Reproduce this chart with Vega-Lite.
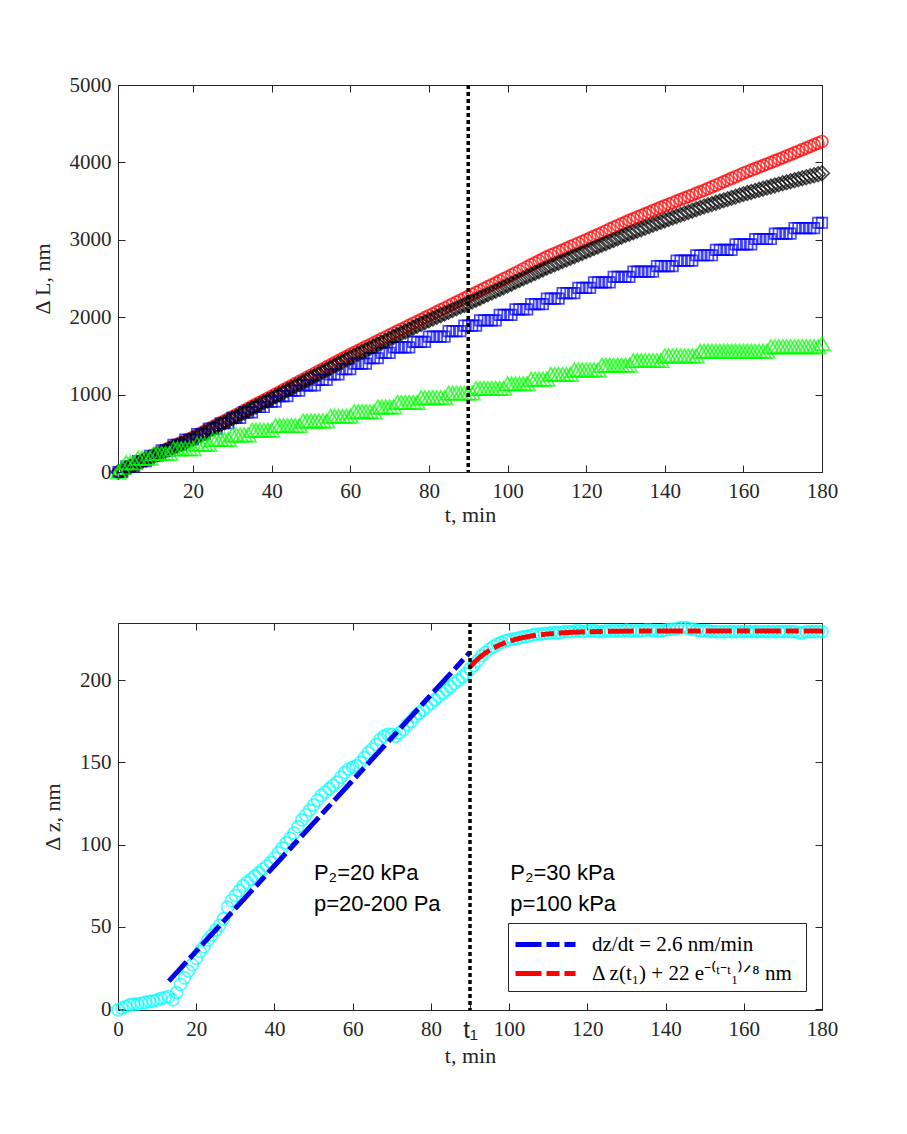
{
  "$schema": "https://vega.github.io/schema/vega-lite/v6.json",
  "padding": {"left": 31, "top": 74, "right": 5, "bottom": 5},
  "spacing": 93,
  "resolve": {"legend": {"color": "independent", "strokeDash": "independent"}},
  "config": {
    "view": {"stroke": null},
    "axis": {
      "domainColor": "#262626", "tickColor": "#262626", "labelColor": "#262626", "titleColor": "#262626",
      "labelFont": "Liberation Serif", "titleFont": "Liberation Serif",
      "labelFontSize": 21, "titleFontSize": 22, "titleFontWeight": "normal",
      "tickSize": -7, "grid": false, "labelFlush": false, "labelOverlap": false,
      "domainWidth": 1, "tickWidth": 1, "format": "d"
    }
  },
  "datasets": {
    "elong": [
      {"t":1,"r":0,"b":0,"k":0,"g":0},{"t":2,"r":24,"b":0,"k":23,"g":60},{"t":3,"r":49,"b":70,"k":46,"g":120},{"t":4,"r":73,"b":70,"k":68,"g":120},{"t":5,"r":98,"b":70,"k":91,"g":120},
      {"t":6,"r":122,"b":140,"k":114,"g":180},{"t":7,"r":147,"b":140,"k":137,"g":180},{"t":8,"r":171,"b":140,"k":160,"g":180},{"t":9,"r":196,"b":210,"k":182,"g":180},{"t":10,"r":220,"b":210,"k":205,"g":240},
      {"t":11,"r":243,"b":210,"k":228,"g":240},{"t":12,"r":266,"b":280,"k":250,"g":240},{"t":13,"r":289,"b":280,"k":273,"g":240},{"t":14,"r":312,"b":280,"k":295,"g":240},{"t":15,"r":335,"b":350,"k":318,"g":300},
      {"t":16,"r":358,"b":350,"k":340,"g":300},{"t":17,"r":381,"b":350,"k":363,"g":300},{"t":18,"r":404,"b":420,"k":385,"g":300},{"t":19,"r":427,"b":420,"k":408,"g":300},{"t":20,"r":450,"b":420,"k":430,"g":300},
      {"t":21,"r":476,"b":490,"k":456,"g":360},{"t":22,"r":503,"b":490,"k":482,"g":360},{"t":23,"r":530,"b":490,"k":508,"g":360},{"t":24,"r":556,"b":560,"k":534,"g":360},{"t":25,"r":583,"b":560,"k":560,"g":420},
      {"t":26,"r":609,"b":560,"k":586,"g":420},{"t":27,"r":636,"b":630,"k":612,"g":420},{"t":28,"r":662,"b":630,"k":638,"g":420},{"t":29,"r":689,"b":630,"k":664,"g":420},{"t":30,"r":715,"b":700,"k":690,"g":480},
      {"t":31,"r":741,"b":700,"k":716,"g":480},{"t":32,"r":768,"b":700,"k":742,"g":480},{"t":33,"r":795,"b":770,"k":768,"g":480},{"t":34,"r":821,"b":770,"k":794,"g":480},{"t":35,"r":848,"b":770,"k":820,"g":540},
      {"t":36,"r":874,"b":840,"k":846,"g":540},{"t":37,"r":901,"b":840,"k":872,"g":540},{"t":38,"r":927,"b":840,"k":898,"g":540},{"t":39,"r":954,"b":910,"k":924,"g":540},{"t":40,"r":980,"b":910,"k":950,"g":540},
      {"t":41,"r":1007,"b":910,"k":977,"g":600},{"t":42,"r":1034,"b":980,"k":1003,"g":600},{"t":43,"r":1061,"b":980,"k":1030,"g":600},{"t":44,"r":1088,"b":980,"k":1056,"g":600},{"t":45,"r":1115,"b":1050,"k":1083,"g":600},
      {"t":46,"r":1142,"b":1050,"k":1109,"g":600},{"t":47,"r":1169,"b":1050,"k":1136,"g":600},{"t":48,"r":1196,"b":1120,"k":1162,"g":660},{"t":49,"r":1223,"b":1120,"k":1189,"g":660},{"t":50,"r":1250,"b":1120,"k":1215,"g":660},
      {"t":51,"r":1277,"b":1120,"k":1242,"g":660},{"t":52,"r":1304,"b":1190,"k":1268,"g":660},{"t":53,"r":1331,"b":1190,"k":1295,"g":660},{"t":54,"r":1358,"b":1190,"k":1321,"g":660},{"t":55,"r":1385,"b":1260,"k":1348,"g":720},
      {"t":56,"r":1412,"b":1260,"k":1374,"g":720},{"t":57,"r":1439,"b":1260,"k":1401,"g":720},{"t":58,"r":1466,"b":1330,"k":1427,"g":720},{"t":59,"r":1493,"b":1330,"k":1454,"g":720},{"t":60,"r":1520,"b":1330,"k":1480,"g":720},
      {"t":61,"r":1545,"b":1400,"k":1504,"g":780},{"t":62,"r":1570,"b":1400,"k":1528,"g":780},{"t":63,"r":1595,"b":1400,"k":1552,"g":780},{"t":64,"r":1620,"b":1400,"k":1576,"g":780},{"t":65,"r":1645,"b":1470,"k":1600,"g":780},
      {"t":66,"r":1670,"b":1470,"k":1624,"g":780},{"t":67,"r":1695,"b":1470,"k":1648,"g":840},{"t":68,"r":1720,"b":1540,"k":1672,"g":840},{"t":69,"r":1745,"b":1540,"k":1696,"g":840},{"t":70,"r":1770,"b":1540,"k":1720,"g":840},
      {"t":71,"r":1795,"b":1610,"k":1744,"g":840},{"t":72,"r":1820,"b":1610,"k":1768,"g":900},{"t":73,"r":1845,"b":1610,"k":1792,"g":900},{"t":74,"r":1870,"b":1610,"k":1816,"g":900},{"t":75,"r":1895,"b":1610,"k":1840,"g":900},
      {"t":76,"r":1920,"b":1680,"k":1864,"g":900},{"t":77,"r":1945,"b":1680,"k":1888,"g":900},{"t":78,"r":1970,"b":1680,"k":1912,"g":960},{"t":79,"r":1995,"b":1680,"k":1936,"g":960},{"t":80,"r":2020,"b":1750,"k":1960,"g":960},
      {"t":81,"r":2045,"b":1750,"k":1982,"g":960},{"t":82,"r":2070,"b":1750,"k":2004,"g":960},{"t":83,"r":2095,"b":1750,"k":2026,"g":960},{"t":84,"r":2120,"b":1750,"k":2048,"g":960},{"t":85,"r":2145,"b":1820,"k":2070,"g":1020},
      {"t":86,"r":2170,"b":1820,"k":2092,"g":1020},{"t":87,"r":2195,"b":1820,"k":2114,"g":1020},{"t":88,"r":2220,"b":1820,"k":2136,"g":1020},{"t":89,"r":2245,"b":1890,"k":2158,"g":1020},{"t":90,"r":2270,"b":1890,"k":2180,"g":1020},
      {"t":91,"r":2295,"b":1890,"k":2203,"g":1020},{"t":92,"r":2320,"b":1890,"k":2226,"g":1080},{"t":93,"r":2345,"b":1960,"k":2249,"g":1080},{"t":94,"r":2370,"b":1960,"k":2272,"g":1080},{"t":95,"r":2395,"b":1960,"k":2295,"g":1080},
      {"t":96,"r":2420,"b":1960,"k":2318,"g":1080},{"t":97,"r":2445,"b":1960,"k":2341,"g":1080},{"t":98,"r":2470,"b":2030,"k":2364,"g":1080},{"t":99,"r":2495,"b":2030,"k":2387,"g":1080},{"t":100,"r":2520,"b":2030,"k":2410,"g":1140},
      {"t":101,"r":2546,"b":2030,"k":2433,"g":1140},{"t":102,"r":2572,"b":2100,"k":2456,"g":1140},{"t":103,"r":2598,"b":2100,"k":2479,"g":1140},{"t":104,"r":2624,"b":2100,"k":2502,"g":1140},{"t":105,"r":2650,"b":2100,"k":2525,"g":1140},
      {"t":106,"r":2676,"b":2170,"k":2548,"g":1200},{"t":107,"r":2702,"b":2170,"k":2571,"g":1200},{"t":108,"r":2728,"b":2170,"k":2594,"g":1200},{"t":109,"r":2754,"b":2170,"k":2617,"g":1200},{"t":110,"r":2780,"b":2240,"k":2640,"g":1200},
      {"t":111,"r":2802,"b":2240,"k":2661,"g":1260},{"t":112,"r":2824,"b":2240,"k":2682,"g":1260},{"t":113,"r":2846,"b":2240,"k":2703,"g":1260},{"t":114,"r":2868,"b":2310,"k":2724,"g":1260},{"t":115,"r":2890,"b":2310,"k":2745,"g":1260},
      {"t":116,"r":2912,"b":2310,"k":2766,"g":1260},{"t":117,"r":2934,"b":2310,"k":2787,"g":1320},{"t":118,"r":2956,"b":2380,"k":2808,"g":1320},{"t":119,"r":2978,"b":2380,"k":2829,"g":1320},{"t":120,"r":3000,"b":2380,"k":2850,"g":1320},
      {"t":121,"r":3023,"b":2380,"k":2871,"g":1320},{"t":122,"r":3046,"b":2450,"k":2892,"g":1320},{"t":123,"r":3069,"b":2450,"k":2913,"g":1320},{"t":124,"r":3092,"b":2450,"k":2934,"g":1380},{"t":125,"r":3115,"b":2450,"k":2955,"g":1380},
      {"t":126,"r":3138,"b":2450,"k":2976,"g":1380},{"t":127,"r":3161,"b":2520,"k":2997,"g":1380},{"t":128,"r":3184,"b":2520,"k":3018,"g":1380},{"t":129,"r":3207,"b":2520,"k":3039,"g":1380},{"t":130,"r":3230,"b":2520,"k":3060,"g":1380},
      {"t":131,"r":3251,"b":2520,"k":3079,"g":1380},{"t":132,"r":3272,"b":2590,"k":3098,"g":1440},{"t":133,"r":3293,"b":2590,"k":3117,"g":1440},{"t":134,"r":3314,"b":2590,"k":3136,"g":1440},{"t":135,"r":3335,"b":2590,"k":3155,"g":1440},
      {"t":136,"r":3356,"b":2590,"k":3174,"g":1440},{"t":137,"r":3377,"b":2590,"k":3193,"g":1440},{"t":138,"r":3398,"b":2660,"k":3212,"g":1440},{"t":139,"r":3419,"b":2660,"k":3231,"g":1440},{"t":140,"r":3440,"b":2660,"k":3250,"g":1500},
      {"t":141,"r":3460,"b":2660,"k":3268,"g":1500},{"t":142,"r":3480,"b":2660,"k":3286,"g":1500},{"t":143,"r":3500,"b":2730,"k":3304,"g":1500},{"t":144,"r":3520,"b":2730,"k":3322,"g":1500},{"t":145,"r":3540,"b":2730,"k":3340,"g":1500},
      {"t":146,"r":3560,"b":2730,"k":3358,"g":1500},{"t":147,"r":3580,"b":2730,"k":3376,"g":1500},{"t":148,"r":3600,"b":2800,"k":3394,"g":1500},{"t":149,"r":3620,"b":2800,"k":3412,"g":1560},{"t":150,"r":3640,"b":2800,"k":3430,"g":1560},
      {"t":151,"r":3662,"b":2800,"k":3446,"g":1560},{"t":152,"r":3684,"b":2800,"k":3462,"g":1560},{"t":153,"r":3706,"b":2870,"k":3478,"g":1560},{"t":154,"r":3728,"b":2870,"k":3494,"g":1560},{"t":155,"r":3750,"b":2870,"k":3510,"g":1560},
      {"t":156,"r":3772,"b":2870,"k":3526,"g":1560},{"t":157,"r":3794,"b":2870,"k":3542,"g":1560},{"t":158,"r":3816,"b":2940,"k":3558,"g":1560},{"t":159,"r":3838,"b":2940,"k":3574,"g":1560},{"t":160,"r":3860,"b":2940,"k":3590,"g":1560},
      {"t":161,"r":3880,"b":2940,"k":3604,"g":1560},{"t":162,"r":3900,"b":2940,"k":3618,"g":1560},{"t":163,"r":3920,"b":3010,"k":3632,"g":1560},{"t":164,"r":3940,"b":3010,"k":3646,"g":1560},{"t":165,"r":3960,"b":3010,"k":3660,"g":1560},
      {"t":166,"r":3980,"b":3010,"k":3674,"g":1560},{"t":167,"r":4000,"b":3010,"k":3688,"g":1620},{"t":168,"r":4020,"b":3080,"k":3702,"g":1620},{"t":169,"r":4040,"b":3080,"k":3716,"g":1620},{"t":170,"r":4060,"b":3080,"k":3730,"g":1620},
      {"t":171,"r":4081,"b":3080,"k":3743,"g":1620},{"t":172,"r":4102,"b":3080,"k":3756,"g":1620},{"t":173,"r":4123,"b":3150,"k":3769,"g":1620},{"t":174,"r":4144,"b":3150,"k":3782,"g":1620},{"t":175,"r":4165,"b":3150,"k":3795,"g":1620},
      {"t":176,"r":4186,"b":3150,"k":3808,"g":1620},{"t":177,"r":4207,"b":3150,"k":3821,"g":1620},{"t":178,"r":4228,"b":3150,"k":3834,"g":1620},{"t":179,"r":4249,"b":3220,"k":3847,"g":1620},{"t":180,"r":4270,"b":3220,"k":3860,"g":1660}
    ],
    "dz": [
      {"t":0,"z":-0.5},{"t":1,"z":0.5},{"t":2,"z":1.5},{"t":3,"z":2.5},{"t":4,"z":3},{"t":5,"z":3},{"t":6,"z":3.5},{"t":7,"z":4},{"t":8,"z":4.5},{"t":9,"z":5},
      {"t":10,"z":5.5},{"t":11,"z":6.5},{"t":12,"z":7},{"t":13,"z":7.5},{"t":14,"z":5.5},{"t":15,"z":10},{"t":16,"z":15},{"t":17,"z":19},{"t":18,"z":23},{"t":19,"z":27},
      {"t":20,"z":31},{"t":21,"z":35},{"t":22,"z":38},{"t":23,"z":42},{"t":24,"z":45},{"t":25,"z":48},{"t":26,"z":51},{"t":27,"z":55},{"t":28,"z":62},{"t":29,"z":66},
      {"t":30,"z":69},{"t":31,"z":72},{"t":32,"z":75},{"t":33,"z":77},{"t":34,"z":79},{"t":35,"z":81},{"t":36,"z":83},{"t":37,"z":85},{"t":38,"z":87},{"t":39,"z":89},
      {"t":40,"z":92},{"t":41,"z":95},{"t":42,"z":98},{"t":43,"z":101},{"t":44,"z":104},{"t":45,"z":107},{"t":46,"z":111},{"t":47,"z":115},{"t":48,"z":118},{"t":49,"z":121},
      {"t":50,"z":124},{"t":51,"z":127},{"t":52,"z":130},{"t":53,"z":132},{"t":54,"z":134},{"t":55,"z":136},{"t":56,"z":138},{"t":57,"z":141},{"t":58,"z":144},{"t":59,"z":146},
      {"t":60,"z":147},{"t":61,"z":148},{"t":62,"z":150},{"t":63,"z":153},{"t":64,"z":156},{"t":65,"z":158},{"t":66,"z":161},{"t":67,"z":164},{"t":68,"z":166},{"t":69,"z":167},
      {"t":70,"z":167},{"t":71,"z":166},{"t":72,"z":168},{"t":73,"z":170},{"t":74,"z":173},{"t":75,"z":175},{"t":76,"z":178},{"t":77,"z":180},{"t":78,"z":182},{"t":79,"z":184},
      {"t":80,"z":186},{"t":81,"z":188},{"t":82,"z":190},{"t":83,"z":192},{"t":84,"z":194},{"t":85,"z":196},{"t":86,"z":198},{"t":87,"z":200},{"t":88,"z":202},{"t":89,"z":204},
      {"t":90,"z":207},{"t":91,"z":209},{"t":92,"z":212},{"t":93,"z":215},{"t":94,"z":217},{"t":95,"z":219},{"t":96,"z":220.5},{"t":97,"z":222},{"t":98,"z":223},{"t":99,"z":224},
      {"t":100,"z":224.5},{"t":101,"z":225},{"t":102,"z":225.5},{"t":103,"z":226},{"t":104,"z":226.5},{"t":105,"z":227},{"t":106,"z":227.5},{"t":107,"z":228},{"t":108,"z":228},{"t":109,"z":228.5},
      {"t":110,"z":228.5},{"t":111,"z":229},{"t":112,"z":229},{"t":113,"z":229},{"t":114,"z":229.5},{"t":115,"z":229.5},{"t":116,"z":229.5},{"t":117,"z":230},{"t":118,"z":230},{"t":119,"z":229.5},
      {"t":120,"z":230},{"t":121,"z":230},{"t":122,"z":230},{"t":123,"z":229.5},{"t":124,"z":229.5},{"t":125,"z":230},{"t":126,"z":230},{"t":127,"z":230},{"t":128,"z":230},{"t":129,"z":230},
      {"t":130,"z":230.5},{"t":131,"z":230},{"t":132,"z":230},{"t":133,"z":230},{"t":134,"z":230},{"t":135,"z":230.5},{"t":136,"z":230.5},{"t":137,"z":230},{"t":138,"z":230},{"t":139,"z":230},
      {"t":140,"z":230.5},{"t":141,"z":231},{"t":142,"z":231},{"t":143,"z":231.5},{"t":144,"z":232},{"t":145,"z":232},{"t":146,"z":231.5},{"t":147,"z":231},{"t":148,"z":230.5},{"t":149,"z":230},
      {"t":150,"z":230},{"t":151,"z":230},{"t":152,"z":229.5},{"t":153,"z":229.5},{"t":154,"z":229.5},{"t":155,"z":229.5},{"t":156,"z":229.5},{"t":157,"z":229.5},{"t":158,"z":229.5},{"t":159,"z":229.5},
      {"t":160,"z":229.5},{"t":161,"z":229.5},{"t":162,"z":229.5},{"t":163,"z":229.5},{"t":164,"z":229.5},{"t":165,"z":229.5},{"t":166,"z":229.5},{"t":167,"z":229.5},{"t":168,"z":229.5},{"t":169,"z":229.5},
      {"t":170,"z":229.5},{"t":171,"z":229.5},{"t":172,"z":229.5},{"t":173,"z":229.5},{"t":174,"z":229},{"t":175,"z":229},{"t":176,"z":229.5},{"t":177,"z":229.5},{"t":178,"z":229.5},{"t":179,"z":229.5},
      {"t":180,"z":229.5}
    ],
    "fits": [
      {"t":13,"z":17,"fit":"dz/dt = 2.6 nm/min"},
      {"t":90,"z":217,"fit":"dz/dt = 2.6 nm/min"},
      {"t":90,"z":208,"fit":"Δ z(t₁) + 22 e⁻⁽ᵗ⁻ᵗ₁⁾ᐟ⁸  nm"},
      {"t":91,"z":210.6,"fit":"Δ z(t₁) + 22 e⁻⁽ᵗ⁻ᵗ₁⁾ᐟ⁸  nm"},
      {"t":92,"z":212.87,"fit":"Δ z(t₁) + 22 e⁻⁽ᵗ⁻ᵗ₁⁾ᐟ⁸  nm"},
      {"t":93,"z":214.88,"fit":"Δ z(t₁) + 22 e⁻⁽ᵗ⁻ᵗ₁⁾ᐟ⁸  nm"},
      {"t":94,"z":216.66,"fit":"Δ z(t₁) + 22 e⁻⁽ᵗ⁻ᵗ₁⁾ᐟ⁸  nm"},
      {"t":95,"z":218.22,"fit":"Δ z(t₁) + 22 e⁻⁽ᵗ⁻ᵗ₁⁾ᐟ⁸  nm"},
      {"t":96,"z":219.61,"fit":"Δ z(t₁) + 22 e⁻⁽ᵗ⁻ᵗ₁⁾ᐟ⁸  nm"},
      {"t":97,"z":220.83,"fit":"Δ z(t₁) + 22 e⁻⁽ᵗ⁻ᵗ₁⁾ᐟ⁸  nm"},
      {"t":98,"z":221.91,"fit":"Δ z(t₁) + 22 e⁻⁽ᵗ⁻ᵗ₁⁾ᐟ⁸  nm"},
      {"t":99,"z":222.86,"fit":"Δ z(t₁) + 22 e⁻⁽ᵗ⁻ᵗ₁⁾ᐟ⁸  nm"},
      {"t":100,"z":223.7,"fit":"Δ z(t₁) + 22 e⁻⁽ᵗ⁻ᵗ₁⁾ᐟ⁸  nm"},
      {"t":102,"z":225.09,"fit":"Δ z(t₁) + 22 e⁻⁽ᵗ⁻ᵗ₁⁾ᐟ⁸  nm"},
      {"t":104,"z":226.18,"fit":"Δ z(t₁) + 22 e⁻⁽ᵗ⁻ᵗ₁⁾ᐟ⁸  nm"},
      {"t":106,"z":227.02,"fit":"Δ z(t₁) + 22 e⁻⁽ᵗ⁻ᵗ₁⁾ᐟ⁸  nm"},
      {"t":108,"z":227.68,"fit":"Δ z(t₁) + 22 e⁻⁽ᵗ⁻ᵗ₁⁾ᐟ⁸  nm"},
      {"t":110,"z":228.19,"fit":"Δ z(t₁) + 22 e⁻⁽ᵗ⁻ᵗ₁⁾ᐟ⁸  nm"},
      {"t":112,"z":228.59,"fit":"Δ z(t₁) + 22 e⁻⁽ᵗ⁻ᵗ₁⁾ᐟ⁸  nm"},
      {"t":114,"z":228.9,"fit":"Δ z(t₁) + 22 e⁻⁽ᵗ⁻ᵗ₁⁾ᐟ⁸  nm"},
      {"t":116,"z":229.15,"fit":"Δ z(t₁) + 22 e⁻⁽ᵗ⁻ᵗ₁⁾ᐟ⁸  nm"},
      {"t":118,"z":229.34,"fit":"Δ z(t₁) + 22 e⁻⁽ᵗ⁻ᵗ₁⁾ᐟ⁸  nm"},
      {"t":120,"z":229.48,"fit":"Δ z(t₁) + 22 e⁻⁽ᵗ⁻ᵗ₁⁾ᐟ⁸  nm"},
      {"t":124,"z":229.69,"fit":"Δ z(t₁) + 22 e⁻⁽ᵗ⁻ᵗ₁⁾ᐟ⁸  nm"},
      {"t":128,"z":229.81,"fit":"Δ z(t₁) + 22 e⁻⁽ᵗ⁻ᵗ₁⁾ᐟ⁸  nm"},
      {"t":132,"z":229.88,"fit":"Δ z(t₁) + 22 e⁻⁽ᵗ⁻ᵗ₁⁾ᐟ⁸  nm"},
      {"t":140,"z":229.96,"fit":"Δ z(t₁) + 22 e⁻⁽ᵗ⁻ᵗ₁⁾ᐟ⁸  nm"},
      {"t":150,"z":229.99,"fit":"Δ z(t₁) + 22 e⁻⁽ᵗ⁻ᵗ₁⁾ᐟ⁸  nm"},
      {"t":160,"z":230,"fit":"Δ z(t₁) + 22 e⁻⁽ᵗ⁻ᵗ₁⁾ᐟ⁸  nm"},
      {"t":180,"z":230,"fit":"Δ z(t₁) + 22 e⁻⁽ᵗ⁻ᵗ₁⁾ᐟ⁸  nm"}
    ],
    "switch": [{"t":90}],
    "notes": [
      {"t":50.1,"z":78.6,"label":"P₂=20 kPa"},
      {"t":50.1,"z":59.8,"label":"p=20-200 Pa"},
      {"t":100.3,"z":78.6,"label":"P₂=30 kPa"},
      {"t":100.3,"z":59.8,"label":"p=100 kPa"}
    ]
  },
  "vconcat": [
    {
      "width": 704,
      "height": 387,
      "data": {"name": "elong"},
      "resolve": {"axis": {"x": "independent", "y": "independent"}},
      "layer": [
        {
          "mark": {"type": "point", "shape": "circle", "filled": false, "color": "#ff0000", "size": 140, "strokeWidth": 1.7},
          "encoding": {
            "x": {"field": "t", "type": "quantitative", "scale": {"domain": [0.9, 180], "nice": false, "zero": false},
                  "axis": {"values": [20, 40, 60, 80, 100, 120, 140, 160, 180], "title": "t, min", "labelPadding": 15, "titlePadding": 3}},
            "y": {"field": "r", "type": "quantitative", "scale": {"domain": [0, 5000], "nice": false},
                  "axis": {"values": [0, 1000, 2000, 3000, 4000, 5000], "title": "Δ L, nm", "labelPadding": 14, "titlePadding": 15}}
          }
        },
        {
          "mark": {"type": "point", "shape": "square", "filled": false, "color": "#0000ff", "size": 110, "strokeWidth": 1.7},
          "encoding": {
            "x": {"field": "t", "type": "quantitative", "scale": {"domain": [0.9, 180], "nice": false, "zero": false},
                  "axis": {"orient": "top", "labels": false, "title": null, "values": [20, 40, 60, 80, 100, 120, 140, 160, 180]}},
            "y": {"field": "b", "type": "quantitative", "scale": {"domain": [0, 5000], "nice": false},
                  "axis": {"orient": "right", "labels": false, "title": null, "values": [0, 1000, 2000, 3000, 4000, 5000]}}
          }
        },
        {
          "mark": {"type": "point", "shape": "diamond", "filled": false, "color": "#000000", "size": 210, "strokeWidth": 1.7},
          "encoding": {
            "x": {"field": "t", "type": "quantitative", "scale": {"domain": [0.9, 180], "nice": false, "zero": false}, "axis": null},
            "y": {"field": "k", "type": "quantitative", "scale": {"domain": [0, 5000], "nice": false}, "axis": null}
          }
        },
        {
          "mark": {"type": "point", "shape": "triangle-up", "filled": false, "color": "#00ff00", "size": 240, "strokeWidth": 1.7},
          "encoding": {
            "x": {"field": "t", "type": "quantitative", "scale": {"domain": [0.9, 180], "nice": false, "zero": false}, "axis": null},
            "y": {"field": "g", "type": "quantitative", "scale": {"domain": [0, 5000], "nice": false}, "axis": null}
          }
        },
        {
          "data": {"name": "switch"},
          "mark": {"type": "rule", "color": "#000000", "strokeWidth": 3.5, "strokeDash": [4, 3]},
          "encoding": {
            "x": {"field": "t", "type": "quantitative", "scale": {"domain": [0.9, 180], "nice": false, "zero": false}, "axis": null}
          }
        }
      ]
    },
    {
      "width": 704,
      "height": 387,
      "resolve": {"axis": {"x": "independent", "y": "independent"}},
      "layer": [
        {
          "data": {"name": "dz"},
          "mark": {"type": "point", "shape": "circle", "filled": false, "color": "#00ffff", "size": 144, "strokeWidth": 1.7},
          "encoding": {
            "x": {"field": "t", "type": "quantitative", "scale": {"domain": [0, 180], "nice": false, "zero": false},
                  "axis": {"values": [0, 20, 40, 60, 80, 90, 100, 120, 140, 160, 180], "title": "t, min", "labelPadding": 15, "titlePadding": 3,
                           "labelExpr": "datum.value == 90 ? 't₁' : datum.label",
                           "labelFont": {"condition": {"test": "datum.value == 90", "value": "Liberation Sans"}, "value": "Liberation Serif"},
                           "labelFontSize": {"condition": {"test": "datum.value == 90", "value": 24}, "value": 21}}},
            "y": {"field": "z", "type": "quantitative", "scale": {"domain": [-0.6, 234.8], "nice": false, "zero": false},
                  "axis": {"values": [0, 50, 100, 150, 200], "title": "Δ z, nm", "labelPadding": 14, "titlePadding": 15}}
          }
        },
        {
          "data": {"name": "fits"},
          "mark": {"type": "line", "strokeWidth": 5, "strokeCap": "butt"},
          "encoding": {
            "x": {"field": "t", "type": "quantitative", "scale": {"domain": [0, 180], "nice": false, "zero": false},
                  "axis": {"orient": "top", "labels": false, "title": null, "values": [0, 20, 40, 60, 80, 100, 120, 140, 160, 180]}},
            "y": {"field": "z", "type": "quantitative", "scale": {"domain": [-0.6, 234.8], "nice": false, "zero": false},
                  "axis": {"orient": "right", "labels": false, "title": null, "values": [0, 50, 100, 150, 200]}},
            "color": {
              "field": "fit", "type": "nominal",
              "scale": {"domain": ["dz/dt = 2.6 nm/min", "Δ z(t₁) + 22 e⁻⁽ᵗ⁻ᵗ₁⁾ᐟ⁸  nm"], "range": ["#0000ee", "#ff0000"]},
              "legend": {
                "orient": "none", "legendX": 390, "legendY": 300, "title": null,
                "padding": 7, "strokeColor": "#262626", "fillColor": "#ffffff",
                "labelFont": "Liberation Serif", "labelFontSize": 21, "labelColor": "#000000", "labelLimit": 400,
                "symbolType": "M-2.5,0H2.5", "symbolSize": 576, "symbolStrokeWidth": 5,
                "symbolOffset": 16, "labelOffset": 32, "rowPadding": 4
              }
            },
            "strokeDash": {
              "field": "fit", "type": "nominal",
              "scale": {"domain": ["dz/dt = 2.6 nm/min", "Δ z(t₁) + 22 e⁻⁽ᵗ⁻ᵗ₁⁾ᐟ⁸  nm"], "range": [[26, 5, 13, 5], [26, 5, 13, 5]]},
              "legend": {
                "orient": "none", "legendX": 390, "legendY": 300, "title": null,
                "padding": 7, "strokeColor": "#262626", "fillColor": "#ffffff",
                "labelFont": "Liberation Serif", "labelFontSize": 21, "labelColor": "#000000", "labelLimit": 400,
                "symbolType": "M-2.5,0H2.5", "symbolSize": 576, "symbolStrokeWidth": 5,
                "symbolOffset": 16, "labelOffset": 32, "rowPadding": 4
              }
            }
          }
        },
        {
          "data": {"name": "switch"},
          "mark": {"type": "rule", "color": "#000000", "strokeWidth": 3.5, "strokeDash": [4, 3]},
          "encoding": {
            "x": {"field": "t", "type": "quantitative", "scale": {"domain": [0, 180], "nice": false, "zero": false}, "axis": null}
          }
        },
        {
          "data": {"name": "notes"},
          "mark": {"type": "text", "align": "left", "baseline": "alphabetic", "font": "Liberation Sans", "fontSize": 22, "color": "#000000"},
          "encoding": {
            "x": {"field": "t", "type": "quantitative", "scale": {"domain": [0, 180], "nice": false, "zero": false}, "axis": null},
            "y": {"field": "z", "type": "quantitative", "scale": {"domain": [-0.6, 234.8], "nice": false, "zero": false}, "axis": null},
            "text": {"field": "label"}
          }
        }
      ]
    }
  ]
}
